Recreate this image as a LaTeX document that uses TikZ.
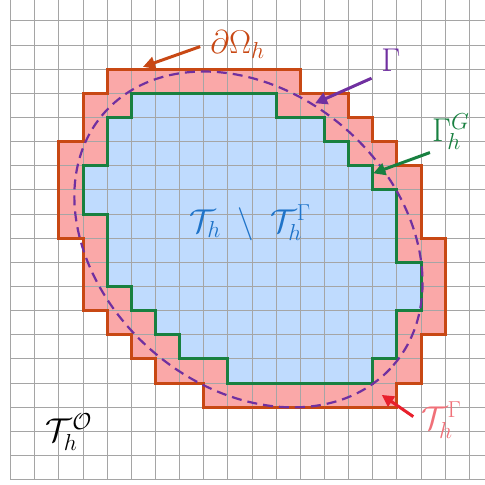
\RequirePackage{fix-cm}
\documentclass[tikz,border=0pt]{standalone}
\usetikzlibrary{arrows.meta}
\definecolor{gridgray}{RGB}{165,165,165}
\definecolor{pinkfill}{RGB}{250,168,168}
\definecolor{bluefill}{RGB}{191,219,254}
\definecolor{orangeline}{RGB}{200,72,20}
\definecolor{greenline}{RGB}{24,128,64}
\definecolor{purpleline}{RGB}{112,48,160}
\definecolor{bluetext}{RGB}{30,115,200}
\definecolor{pinktext}{RGB}{240,112,120}
\definecolor{redarrow}{RGB}{232,32,44}
\tikzset{
  gridline/.style={draw=gridgray,line width=1pt},
  outerline/.style={draw=orangeline,line width=3pt,line join=miter},
  innerline/.style={draw=greenline,line width=3pt,line join=miter},
  curveline/.style={draw=purpleline,line width=2.2pt,dash pattern=on 10pt off 6pt},
  pointer/.style={line width=3pt,-{Triangle[length=12pt,width=12pt]}},
  lbl/.style={inner sep=0pt,anchor=base west,font=\fontsize{33}{38}\selectfont}
}
\begin{document}
\begin{tikzpicture}[x=24.14pt,y=24.14pt]
\useasboundingbox (-0.443,-0.22) rectangle (19.65,19.87);
% fills
\fill[pinkfill] (4,17) -- (12,17) -- (12,16) -- (14,16) -- (14,15) -- (15,15) -- (15,14) -- (16,14) -- (16,13) -- (17,13) -- (17,10) -- (18,10) -- (18,6) -- (17,6) -- (17,4) -- (16,4) -- (16,3) -- (8,3) -- (8,4) -- (6,4) -- (6,5) -- (5,5) -- (5,6) -- (4,6) -- (4,7) -- (3,7) -- (3,10) -- (2,10) -- (2,14) -- (3,14) -- (3,16) -- (4,16) -- cycle;
\fill[bluefill] (5,16) -- (11,16) -- (11,15) -- (13,15) -- (13,14) -- (14,14) -- (14,13) -- (15,13) -- (15,12) -- (16,12) -- (16,9) -- (17,9) -- (17,7) -- (16,7) -- (16,5) -- (15,5) -- (15,4) -- (9,4) -- (9,5) -- (7,5) -- (7,6) -- (6,6) -- (6,7) -- (5,7) -- (5,8) -- (4,8) -- (4,11) -- (3,11) -- (3,13) -- (4,13) -- (4,15) -- (5,15) -- cycle;
% grid
\draw[gridline,step=24.14pt] (0,0) grid (19.65,19.87);
% outlines
\draw[outerline] (4,17) -- (12,17) -- (12,16) -- (14,16) -- (14,15) -- (15,15) -- (15,14) -- (16,14) -- (16,13) -- (17,13) -- (17,10) -- (18,10) -- (18,6) -- (17,6) -- (17,4) -- (16,4) -- (16,3) -- (8,3) -- (8,4) -- (6,4) -- (6,5) -- (5,5) -- (5,6) -- (4,6) -- (4,7) -- (3,7) -- (3,10) -- (2,10) -- (2,14) -- (3,14) -- (3,16) -- (4,16) -- cycle;
\draw[innerline] (5,16) -- (11,16) -- (11,15) -- (13,15) -- (13,14) -- (14,14) -- (14,13) -- (15,13) -- (15,12) -- (16,12) -- (16,9) -- (17,9) -- (17,7) -- (16,7) -- (16,5) -- (15,5) -- (15,4) -- (9,4) -- (9,5) -- (7,5) -- (7,6) -- (6,6) -- (6,7) -- (5,7) -- (5,8) -- (4,8) -- (4,11) -- (3,11) -- (3,13) -- (4,13) -- (4,15) -- (5,15) -- cycle;
% interface curve
\draw[curveline] (9.85,9.95) ellipse [x radius=7.95,y radius=6.1,rotate=-41];
% labels
\node[lbl,text=orangeline] (dom) at (8.26,17.67) {$\partial\Omega_h$};
\node[lbl,text=purpleline] (gam) at (15.35,16.89) {$\Gamma$};
\node[lbl,text=greenline] (gamg) at (17.45,14.0) {$\Gamma_{\!h}^{G}$};
\node[lbl,text=pinktext] (tgam) at (17.0,2.06) {$\mathcal{T}_h^\Gamma$};
\node[lbl,text=bluetext] (tin) at (7.4,10.25) {$\mathcal{T}_h\mkern5mu\setminus\mkern5mu\mathcal{T}_h^\Gamma$};
\node[lbl,text=black] (tout) at (1.45,1.56) {$\mathcal{T}_h^{\mathcal{O}}$};
% arrow ends
\coordinate (domS) at (7.85,17.94);
\coordinate (domT) at (5.48,17.1);
\coordinate (gamS) at (14.95,16.63);
\coordinate (gamT) at (12.61,15.59);
\coordinate (gamgS) at (17.37,13.55);
\coordinate (gamgT) at (15.02,12.69);
\coordinate (tgamS) at (16.68,2.61);
\coordinate (tgamT) at (15.37,3.51);
\draw[pointer,draw=orangeline,fill=orangeline] (domS) -- (domT);
\draw[pointer,draw=purpleline,fill=purpleline] (gamS) -- (gamT);
\draw[pointer,draw=greenline,fill=greenline] (gamgS) -- (gamgT);
\draw[pointer,draw=redarrow,fill=redarrow] (tgamS) -- (tgamT);
\end{tikzpicture}
\end{document}
